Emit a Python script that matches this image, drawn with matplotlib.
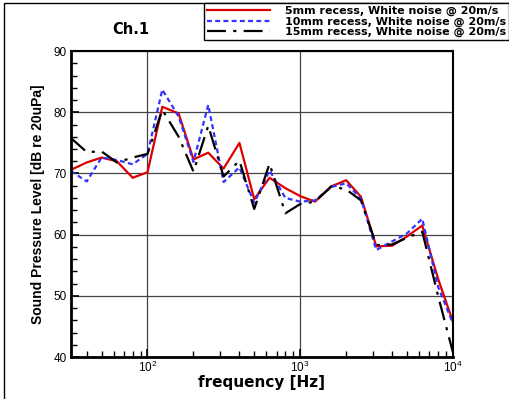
import matplotlib
matplotlib.use('Agg')
import matplotlib.pyplot as plt
from matplotlib.patches import Rectangle
from matplotlib.ticker import FixedLocator, LogLocator, NullFormatter
import numpy as np

plt.rcParams['font.family'] = ['Liberation Sans', 'DejaVu Sans']
plt.rcParams['mathtext.fontset'] = 'custom'
plt.rcParams['mathtext.rm'] = 'Liberation Sans'

# 1/3 octave band centres [Hz]
freq = [31.5, 40, 50, 63, 80, 100, 125, 160, 200, 250, 315, 400, 500, 630,
        800, 1000, 1250, 1600, 2000, 2500, 3150, 4000, 5000, 6300, 8000, 10000]

# SPL [dB re 20uPa] for each recess depth
spl_5mm = [70.6, 71.8, 72.6, 72.0, 69.3, 70.2, 80.9, 79.8, 72.3, 73.4, 70.8, 75.0, 65.8,
           69.3, 67.6, 66.3, 65.4, 67.9, 68.9, 66.2, 58.1, 58.2, 59.7, 61.5, 52.8, 45.8]
spl_10mm = [70.4, 68.7, 72.6, 72.2, 71.5, 73.2, 83.7, 79.3, 71.9, 81.2, 68.6, 71.0, 65.2,
            70.5, 66.0, 65.4, 65.6, 67.8, 68.4, 65.9, 57.5, 58.9, 60.2, 62.6, 51.5, 45.5]
spl_15mm = [75.8, 73.5, 73.6, 71.8, 72.6, 73.2, 80.4, 76.0, 70.3, 77.8, 69.5, 72.1, 64.2,
            71.6, 63.5, 65.0, 65.4, 67.9, 67.4, 65.6, 58.3, 58.4, 59.5, 60.5, 50.0, 40.8]

labels = ['5mm recess, White noise @ 20m/s',
          '10mm recess, White noise @ 20m/s',
          '15mm recess, White noise @ 20m/s']

fig = plt.figure(figsize=(5.10, 3.99), dpi=100)
ax = fig.add_axes([0.139, 0.105, 0.749, 0.767])

ax.plot(freq, spl_5mm, color='#dd0000', lw=1.6, label=labels[0])
ax.plot(freq, spl_10mm, color='#3333ff', lw=1.6, dashes=(2.2, 1.5), label=labels[1])
ax.plot(freq, spl_15mm, color='black', lw=1.6, dashes=(8.5, 3.3, 1.4, 3.3), label=labels[2])

ax.set_xscale('log')
ax.set_xlim(31.5, 10000)
ax.set_ylim(40, 90)

ax.xaxis.set_major_locator(FixedLocator([100, 1000, 10000]))
ax.xaxis.set_major_formatter(plt.FuncFormatter(lambda v, p: r'$10^{%d}$' % round(np.log10(v))))
ax.xaxis.set_minor_locator(LogLocator(base=10, subs=np.arange(2, 10)))
ax.xaxis.set_minor_formatter(NullFormatter())
ax.yaxis.set_major_locator(FixedLocator([40, 50, 60, 70, 80, 90]))
ax.yaxis.set_minor_locator(FixedLocator(np.arange(40, 91, 2)))

ax.tick_params(which='both', direction='in', top=False, right=False, labelsize=8.5)
ax.tick_params(which='major', length=6, width=1.2, pad=3)
ax.tick_params(which='minor', length=4, width=1.0)
ax.tick_params(axis='x', which='major', labelsize=8.5, pad=2)

ax.grid(True, which='major', color='#444444', lw=0.9)
for side in ['left', 'bottom']:
    ax.spines[side].set_linewidth(2.0)
for side in ['top', 'right']:
    ax.spines[side].set_linewidth(1.5)

ax.set_xlabel('frequency [Hz]', fontsize=11, fontweight='bold', labelpad=0,
              family=['DejaVu Sans'])
ax.set_ylabel('Sound Pressure Level [dB re 20uPa]', fontsize=10, fontweight='bold', labelpad=6)

fig.text(0.257, 0.925, 'Ch.1', fontsize=10.5, fontweight='bold', ha='center', va='center',
         family=['DejaVu Sans'])

leg = fig.legend(loc='upper right', bbox_to_anchor=(0.998, 0.993),
                 prop={'weight': 'bold', 'size': 8.0, 'family': 'DejaVu Sans'},
                 frameon=True, fancybox=False, edgecolor='black', framealpha=1,
                 handlelength=5.6, handletextpad=1.35, labelspacing=0.0,
                 borderpad=0.3, borderaxespad=0)
leg.get_frame().set_linewidth(1.0)

# outer frame around the figure
fig.add_artist(Rectangle((4 / 510, -0.05), 1.1, 1.05 - 3 / 399, transform=fig.transFigure,
                         fill=False, edgecolor='black', lw=1.0, clip_on=False))

fig.savefig('out.png', dpi=100)
